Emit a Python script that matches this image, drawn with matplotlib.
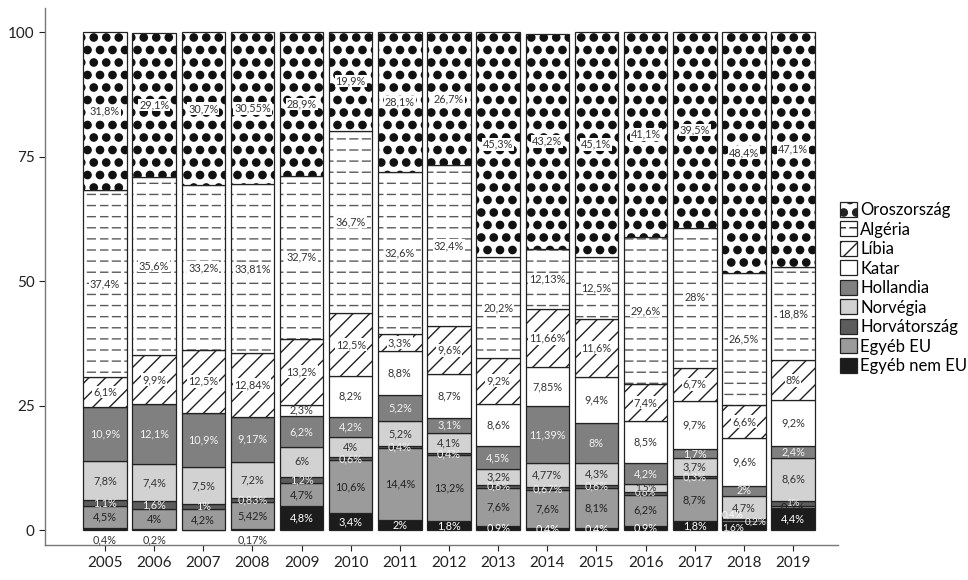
import matplotlib
matplotlib.use("Agg")
import matplotlib.pyplot as plt
import matplotlib.hatch as mhatch
from matplotlib.path import Path
import numpy as np

# gas import shares by source country, %
years = list(range(2005, 2020))
egyeb_nem_eu = [0.4, 0.2, 0, 0.17, 4.8, 3.4, 2, 1.8, 0.9, 0.4, 0.4, 0.9, 1.8, 1.6, 4.4]
egyeb_eu = [4.5, 4, 4.2, 5.42, 4.7, 10.6, 14.4, 13.2, 7.6, 7.6, 8.1, 6.2, 8.7, 0.4, 0.5]
horvatorszag = [1.1, 1.6, 1, 0.83, 1.2, 0.6, 0.4, 0.4, 0.6, 0.67, 0.6, 0.6, 0.3, 0.2, 1]
norvegia = [7.8, 7.4, 7.5, 7.2, 6, 4, 5.2, 4.1, 3.2, 4.77, 4.3, 1.5, 3.7, 4.7, 8.6]
hollandia = [10.9, 12.1, 10.9, 9.17, 6.2, 4.2, 5.2, 3.1, 4.5, 11.39, 8, 4.2, 1.7, 2, 2.4]
katar = [0, 0, 0, 0, 2.3, 8.2, 8.8, 8.7, 8.6, 7.85, 9.4, 8.5, 9.7, 9.6, 9.2]
libia = [6.1, 9.9, 12.5, 12.84, 13.2, 12.5, 3.3, 9.6, 9.2, 11.66, 11.6, 7.4, 6.7, 6.6, 8]
algeria = [37.4, 35.6, 33.2, 33.81, 32.7, 36.7, 32.6, 32.4, 20.2, 12.13, 12.5, 29.6, 28, 26.5, 18.8]
oroszorszag = [31.8, 29.1, 30.7, 30.55, 28.9, 19.9, 28.1, 26.7, 45.3, 43.2, 45.1, 41.1, 39.5, 48.4, 47.1]

series_names = ["Egyéb nem EU", "Egyéb EU", "Horvátország", "Norvégia", "Hollandia",
                "Katar", "Líbia", "Algéria", "Oroszország"]
series_vals = [egyeb_nem_eu, egyeb_eu, horvatorszag, norvegia, hollandia,
               katar, libia, algeria, oroszorszag]


# bigger filled dots and dashed horizontal lines for the hatches
class BigDots(mhatch.Circles):
    size = 0.29
    filled = True

    def __init__(self, hatch, density):
        self.num_rows = hatch.count('.') * 8
        super().__init__(hatch, density)


class DashedLines(mhatch.HatchPatternBase):
    def __init__(self, hatch, density):
        self.num_lines = hatch.count('-') * 9
        self.num_dashes = 8
        self.num_vertices = self.num_lines * self.num_dashes * 2

    def set_vertices_and_codes(self, vertices, codes):
        ys = (np.arange(self.num_lines) + 0.5) / self.num_lines
        xs = np.arange(self.num_dashes) / self.num_dashes
        yy, xx = np.meshgrid(ys, xs, indexing='ij')
        vertices[0::2, 0] = xx.ravel()
        vertices[0::2, 1] = yy.ravel()
        vertices[1::2, 0] = xx.ravel() + 0.62 / self.num_dashes
        vertices[1::2, 1] = yy.ravel()
        codes[0::2] = Path.MOVETO
        codes[1::2] = Path.LINETO


swap = {mhatch.SmallFilledCircles: BigDots, mhatch.HorizontalHatch: DashedLines}
mhatch._hatch_types = [swap.get(t, t) for t in mhatch._hatch_types]

plt.rcParams['font.family'] = ['Lato', 'DejaVu Sans']
plt.rcParams['hatch.linewidth'] = 1.0

colors = ['#1c1c1c', '#9b9b9b', '#5c5c5c', '#d2d2d2', '#808080',
          'white', 'white', 'white', 'white']
hatches = [None, None, None, None, None, None, '//', '-', '.']
hatch_cols = ['#222222'] * 7 + ['#5a5a5a', '#111111']
text_cols = ['white', '#222222', '#eeeeee', '#333333', '#f2f2f2',
             '#333333', '#333333', '#333333', '#333333']
boxed = [False, False, False, False, False, False, True, True, True]

fig = plt.figure(figsize=(9.68, 5.8), dpi=100)
ax = fig.add_axes([0.0465, 0.0603, 0.866 - 0.0465, 0.986 - 0.0603])

x = np.array(years)
width = 0.885
bottom = np.zeros(len(years))
handles = []
for i, (name, vals) in enumerate(zip(series_names, series_vals)):
    vals = np.array(vals, dtype=float)
    # hatch gets the edge colour, so draw the fill and the outline apart
    ax.bar(x, vals, bottom=bottom, width=width, color=colors[i], edgecolor=hatch_cols[i],
           linewidth=0, hatch=hatches[i])
    ax.bar(x, vals, bottom=bottom, width=width, fill=False, edgecolor='#222222', linewidth=0.9)
    handles.append(plt.Rectangle((0, 0), 1, 1, facecolor=colors[i], edgecolor='#222222',
                                 linewidth=0.9, hatch=hatches[i], label=name))
    for j, v in enumerate(vals):
        if v <= 0:
            continue
        txt = f"{v:g}".replace('.', ',') + '%'
        xx = x[j]
        yy = bottom[j] + v / 2
        col = text_cols[i]
        fs = 7.8
        if i == 0 and years[j] in (2005, 2006, 2008):
            yy = -2.0
            col = '#333333'
        if years[j] == 2018 and i <= 2:
            # crowded bottom of the 2018 bar
            xx = x[j] + [-0.22, -0.22, 0.24][i]
            yy = [0.3, 3.0, 1.6][i]
            col = 'white'
            fs = 7.2
        if i in (2, 3) and v < 1.6 and years[j] in (2016, 2019):
            fs = 7.0
        kw = {}
        if boxed[i]:
            kw['bbox'] = dict(facecolor='white', edgecolor='none', pad=0.6)
        ax.text(xx, yy, txt, ha='center', va='center', fontsize=fs, color=col, **kw)
    bottom += vals

ax.set_xlim(2003.78, 2019.92)
ax.set_ylim(-3, 104.8)
ax.set_xticks(years)
ax.set_yticks([0, 25, 50, 75, 100])
ax.tick_params(axis='both', labelsize=11, colors='#222222', length=4, width=0.8)
ax.tick_params(axis='x', pad=4)
for side in ['top', 'right']:
    ax.spines[side].set_visible(False)
for side in ['left', 'bottom']:
    ax.spines[side].set_color('#777777')
    ax.spines[side].set_linewidth(1.0)

fig.legend(handles[::-1], series_names[::-1], loc='upper left', bbox_to_anchor=(0.868, 0.652),
           frameon=False, fontsize=12, handlelength=1.0, handleheight=1.0,
           handletextpad=0.2, labelspacing=0.2, borderpad=0, borderaxespad=0)

fig.savefig("out.png", dpi=100)
